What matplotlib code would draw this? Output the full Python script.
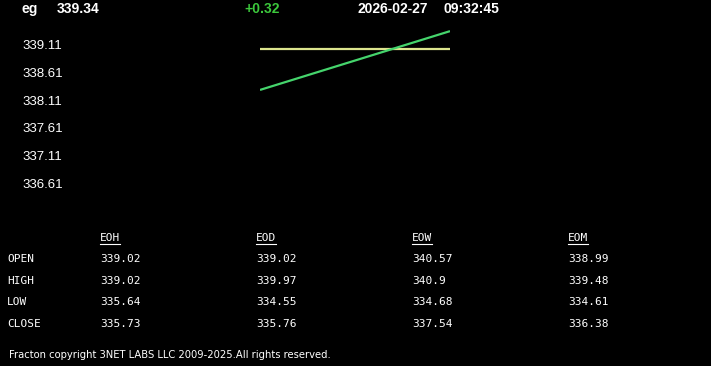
import matplotlib
matplotlib.use("Agg")
import matplotlib.pyplot as plt
from matplotlib.lines import Line2D

# ---- data ----
symbol = "eg"
last_price = "339.34"
change = "+0.32"
date_str = "2026-02-27"
time_str = "09:32:45"

y_ticks = [339.11, 338.61, 338.11, 337.61, 337.11, 336.61]
price_x = [0, 1]
price_values = [338.29, 339.34]
open_level = 339.02

col_headers = ["EOH", "EOD", "EOW", "EOM"]
row_labels = ["OPEN", "HIGH", "LOW", "CLOSE"]
table_values = [
    ["339.02", "339.02", "340.57", "338.99"],
    ["339.02", "339.97", "340.9", "339.48"],
    ["335.64", "334.55", "334.68", "334.61"],
    ["335.73", "335.76", "337.54", "336.38"],
]
footer = "Fracton copyright 3NET LABS LLC 2009-2025.All rights reserved."

# ---- layout ----
W, H = 711, 366
fig = plt.figure(figsize=(W / 100, H / 100), dpi=100, facecolor="black")

def fx(px):
    return px / W

def fy(py):
    return 1 - py / H

ax = fig.add_axes([fx(260), fy(200), fx(450) - fx(260), fy(20) - fy(200)])
ax.set_facecolor("black")
ax.set_xlim(0, 1)
ax.set_ylim(336.324, 339.539)
for s in ax.spines.values():
    s.set_visible(False)
ax.set_xticks([])
ax.set_yticks(y_ticks)
ax.set_yticklabels([f"{v:.2f}" for v in y_ticks])
ax.tick_params(axis="y", length=0, pad=238 * 72 / 100, labelcolor="white",
               labelsize=9.5)
for lbl in ax.get_yticklabels():
    lbl.set_horizontalalignment("left")
    lbl.set_fontfamily("Liberation Sans")

ax.plot([price_x[0], price_x[-1]], [open_level, open_level], color="#dde58e", lw=1.6,
        solid_capstyle="butt")
ax.plot(price_x, price_values, color="#45d46c", lw=1.6, solid_capstyle="butt")

# header
hdr = dict(fontsize=10, fontweight="bold", fontfamily="Liberation Sans", va="center")
fig.text(fx(22), fy(9), symbol, color="white", **hdr)
fig.text(fx(57), fy(9), last_price, color="white", **hdr)
fig.text(fx(244), fy(9), change, color="#3cc83c", **hdr)
fig.text(fx(358), fy(9), date_str, color="white", **hdr)
fig.text(fx(444), fy(9), time_str, color="white", **hdr)

# table
col_x = [100, 256, 412, 568]
row_y = [259, 281, 302, 324]
mono = dict(fontsize=8, fontfamily="DejaVu Sans Mono", color="white", va="center")
header_texts = []
for cx, h in zip(col_x, col_headers):
    header_texts.append(fig.text(fx(cx), fy(238), h, **mono))
for ry, lab, vals in zip(row_y, row_labels, table_values):
    fig.text(fx(7), fy(ry), lab, **mono)
    for cx, v in zip(col_x, vals):
        fig.text(fx(cx), fy(ry), v, **mono)

fig.canvas.draw()
r = fig.canvas.get_renderer()
for t in header_texts:
    bb = t.get_window_extent(r).transformed(fig.transFigure.inverted())
    fig.add_artist(Line2D([bb.x0, bb.x1], [fy(244), fy(244)], color="white", lw=0.8,
                          transform=fig.transFigure))

fig.text(fx(9), fy(355), footer, color="white", fontsize=7.2,
         fontfamily="Liberation Sans Narrow", va="center")

fig.savefig("out.png", dpi=100, facecolor="black")
